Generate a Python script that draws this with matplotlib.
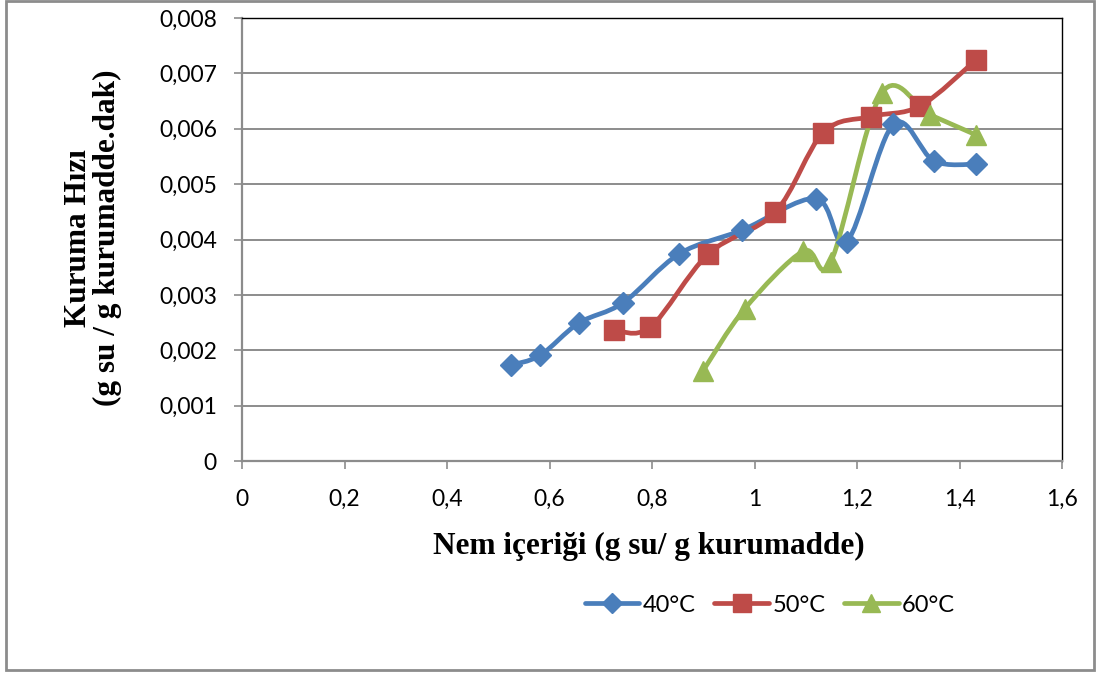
import numpy as np
import matplotlib
matplotlib.use("Agg")
import matplotlib.pyplot as plt
from matplotlib.path import Path
from matplotlib.patches import PathPatch, Rectangle
from matplotlib.lines import Line2D

# ---- data ----
x40 = [0.524, 0.582, 0.657, 0.744, 0.853, 0.976, 1.120, 1.180, 1.271, 1.350, 1.432]
y40 = [0.00173, 0.00191, 0.00249, 0.00286, 0.00374, 0.00417, 0.00474, 0.00396, 0.00608, 0.00542, 0.00536]
x50 = [0.725, 0.797, 0.910, 1.040, 1.134, 1.227, 1.323, 1.432]
y50 = [0.00237, 0.00242, 0.00374, 0.00449, 0.00593, 0.00622, 0.00641, 0.00724]
x60 = [0.899, 0.981, 1.095, 1.149, 1.248, 1.343, 1.432]
y60 = [0.00162, 0.00275, 0.00379, 0.00360, 0.00664, 0.00625, 0.00589]
labels = ["40°C", "50°C", "60°C"]
colors = ["#4A7EBB", "#BE4B48", "#98B954"]
markers = ["D", "s", "^"]
xticks = [0, 0.2, 0.4, 0.6, 0.8, 1.0, 1.2, 1.4, 1.6]
yticks = [0, 0.001, 0.002, 0.003, 0.004, 0.005, 0.006, 0.007, 0.008]
xticklabels = ["0", "0,2", "0,4", "0,6", "0,8", "1", "1,2", "1,4", "1,6"]
yticklabels = ["0", "0,001", "0,002", "0,003", "0,004", "0,005", "0,006", "0,007", "0,008"]

fig = plt.figure(figsize=(10.99, 6.75), dpi=100)
ax = fig.add_axes([242/1099, 1-461/675, (1062-242)/1099, (461-18)/675])

# outer border
fig.patches.append(Rectangle((6/1099, 5/675), (1094-6)/1099, (675-5-1)/675,
                             transform=fig.transFigure, fill=False,
                             edgecolor="#8C8C8C", linewidth=2.0))


def smooth_path(xs, ys, t=1/6):
    xs = np.asarray(xs, float); ys = np.asarray(ys, float)
    n = len(xs)
    verts = [(xs[0], ys[0])]
    codes = [Path.MOVETO]
    for i in range(n - 1):
        p0 = (xs[max(i-1, 0)], ys[max(i-1, 0)])
        p1 = (xs[i], ys[i])
        p2 = (xs[i+1], ys[i+1])
        p3 = (xs[min(i+2, n-1)], ys[min(i+2, n-1)])
        c1 = (p1[0] + (p2[0]-p0[0])*t, p1[1] + (p2[1]-p0[1])*t)
        c2 = (p2[0] - (p3[0]-p1[0])*t, p2[1] - (p3[1]-p1[1])*t)
        verts += [c1, c2, p2]
        codes += [Path.CURVE4]*3
    return Path(verts, codes)

series = [(x40, y40), (x50, y50), (x60, y60)]
handles = []
msizes = [11, 14, 14]
for (xs, ys), c, m, lab, ms in zip(series, colors, markers, labels, msizes):
    ax.add_patch(PathPatch(smooth_path(xs, ys), facecolor="none", edgecolor=c,
                           linewidth=3.4, capstyle="round", joinstyle="round", zorder=3))
    ax.plot(xs, ys, linestyle="none", marker=m, markersize=ms, color=c,
            markeredgecolor=c, zorder=4)
    handles.append(Line2D([], [], color=c, marker=m, markersize=ms*0.9, linewidth=3.4,
                          solid_capstyle="round"))

ax.set_xlim(0, 1.6)
ax.set_ylim(0, 0.008)
ax.set_xticks(xticks)
ax.set_yticks(yticks)
ax.set_xticklabels(xticklabels)
ax.set_yticklabels(yticklabels)
ax.tick_params(axis="both", direction="out", length=6, width=1.2, color="#8C8C8C",
               labelsize=16.5)
for lab in ax.get_xticklabels() + ax.get_yticklabels():
    lab.set_family("Lato")
ax.tick_params(axis="x", pad=14)
ax.tick_params(axis="y", pad=12)
ax.grid(axis="y", color="#8C8C8C", linewidth=1.4)
ax.set_axisbelow(True)
for s in ["left", "bottom"]:
    ax.spines[s].set_color("#8C8C8C")
    ax.spines[s].set_linewidth(1.6)
for s in ["top", "right"]:
    ax.spines[s].set_color("#000000")
    ax.spines[s].set_linewidth(1.0)

fig.text(649/1099, 1-546/675, "Nem içeriği (g su/ g kurumadde)", family="Liberation Serif",
         fontweight="bold", fontsize=22.5, ha="center", va="center")
fig.text(93/1099, 1-238/675, "Kuruma Hızı\n(g su / g kurumadde.dak)", family="Liberation Serif",
         fontweight="bold", fontsize=22.5, ha="center", va="center", rotation=90,
         linespacing=1.0, multialignment="center")

fig.legend(handles, labels, loc="center", bbox_to_anchor=(770/1099, 1-605/675),
           ncol=3, frameon=False, prop={"family": "Lato", "size": 17},
           handlelength=2.3, handletextpad=0.15, columnspacing=0.8)

fig.savefig("out.png", dpi=100)
